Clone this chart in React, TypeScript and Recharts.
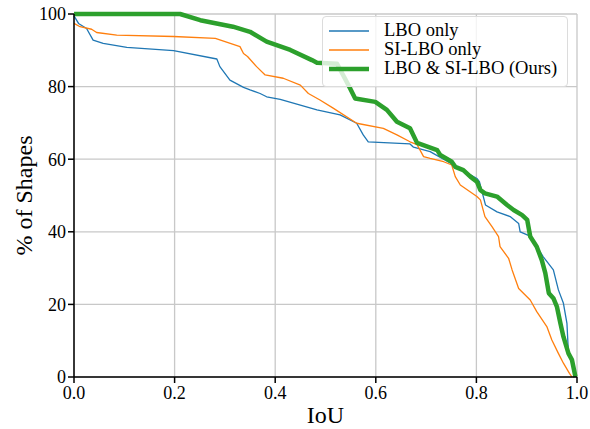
import React from "react";
import {
  CartesianGrid,
  Label,
  Legend,
  Line,
  LineChart,
  XAxis,
  YAxis,
} from "recharts";

// [IoU, % of shapes]
const lboOnly: [number, number][] = [
  [0, 99.5], [0.009, 97.4], [0.025, 96], [0.038, 92.8], [0.058, 91.9],
  [0.105, 90.8], [0.198, 89.9], [0.284, 87.6], [0.29, 85.5], [0.31, 81.8],
  [0.337, 79.8], [0.35, 79.1], [0.37, 78.1], [0.383, 77.2], [0.41, 76.5],
  [0.45, 74.9], [0.483, 73.6], [0.529, 72.2], [0.562, 69.9], [0.575, 66.7],
  [0.585, 64.8], [0.668, 64.2], [0.675, 63.3], [0.708, 62.1], [0.755, 58.4],
  [0.801, 54.7], [0.806, 53.8], [0.818, 47.4], [0.841, 45.5], [0.867, 44.2],
  [0.884, 42.3], [0.887, 40], [0.907, 38.8], [0.933, 33.1], [0.953, 29.5],
  [0.963, 24], [0.973, 20.3], [0.98, 14.8], [0.983, 6.5], [0.99, 4.7],
  [0.997, 0],
];

const siLboOnly: [number, number][] = [
  [0, 97.4], [0.012, 96.5], [0.035, 95.8], [0.045, 94.9], [0.085, 94.2],
  [0.198, 93.8], [0.281, 93.3], [0.33, 91], [0.337, 89.1], [0.345, 88.3],
  [0.363, 85.5], [0.38, 83.2], [0.416, 82.3], [0.45, 80.4], [0.466, 78.1],
  [0.489, 76.3], [0.516, 74], [0.562, 69.9], [0.615, 68.5], [0.642, 66.7],
  [0.668, 64.8], [0.682, 64], [0.688, 62.5], [0.695, 60.7], [0.708, 60.2],
  [0.735, 59.3], [0.751, 58.4], [0.758, 55.2], [0.768, 52.9], [0.801, 49.7],
  [0.808, 48.8], [0.817, 44.2], [0.831, 41.4], [0.844, 38.7], [0.847, 35.9],
  [0.864, 32.7], [0.871, 29.5], [0.884, 24.4], [0.907, 21.2], [0.92, 18],
  [0.94, 13.9], [0.95, 10.2], [0.963, 6.5], [0.973, 3.8], [0.985, 1],
  [0.99, 0],
];

const ours: [number, number][] = [
  [0, 100], [0.211, 100], [0.251, 98.3], [0.316, 96.5], [0.35, 95.1],
  [0.383, 92.4], [0.43, 90.1], [0.473, 87.3], [0.483, 86.6], [0.523, 86.3],
  [0.549, 79.5], [0.559, 76.7], [0.599, 75.8], [0.622, 73.6], [0.642, 70.3],
  [0.668, 68.5], [0.682, 64.5], [0.722, 62.5], [0.728, 61.2], [0.751, 59.3],
  [0.758, 57.9], [0.774, 57], [0.788, 55.2], [0.801, 53.8], [0.808, 51.5],
  [0.817, 50.6], [0.841, 49.7], [0.861, 47.4], [0.874, 46], [0.891, 44.6],
  [0.901, 43.3], [0.907, 38.7], [0.92, 35.9], [0.93, 32.2], [0.937, 28.6],
  [0.944, 23.1], [0.953, 21.7], [0.96, 19.4], [0.967, 14.8], [0.973, 11.1],
  [0.983, 6.5], [0.99, 4.7], [0.997, 0],
];

const xTicks = [0, 0.2, 0.4, 0.6, 0.8, 1.0];
const yTicks = [0, 20, 40, 60, 80, 100];

const seriesNames = ["LBO only", "SI-LBO only", "LBO & SI-LBO (Ours)"];

const toRows = (pts: [number, number][]) => pts.map(([x, y]) => ({ x, y }));

const font = "'Liberation Serif', 'Times New Roman', serif";
const colors = ["#1f77b4", "#ff7f0e", "#2ca02c"];
const widths = [1.3, 1.3, 4.5];

function LegendBox() {
  return (
    <div
      style={{
        boxSizing: "border-box",
        width: 246,
        height: 71,
        background: "rgba(255,255,255,0.8)",
        border: "1px solid #dcdcdc",
        borderRadius: 4,
        padding: "4px 0 0 6px",
        fontFamily: font,
        fontSize: 18.5,
        lineHeight: "19.2px",
        color: "#000",
      }}
    >
      {seriesNames.map((name, i) => (
        <div key={name} style={{ display: "flex", alignItems: "center", height: 19.2 }}>
          <svg width={40} height={8} style={{ marginRight: 15, flex: "none" }}>
            <line x1={0} y1={4} x2={40} y2={4} stroke={colors[i]} strokeWidth={widths[i]} />
          </svg>
          <span style={{ whiteSpace: "nowrap" }}>{name}</span>
        </div>
      ))}
    </div>
  );
}

export default function App() {
  return (
    <div style={{ position: "absolute", left: 0, top: 0, width: 590, height: 429, background: "#fff" }}>
      <LineChart
        width={590}
        height={429}
        margin={{ top: 14, right: 13, bottom: 0, left: 0 }}
        style={{ fontFamily: font }}
      >
        <CartesianGrid stroke="#c8c8c8" strokeWidth={1.3} />
        <XAxis
          dataKey="x"
          type="number"
          domain={[0, 1]}
          ticks={xTicks}
          tickFormatter={(v: number) => v.toFixed(1)}
          allowDuplicatedCategory={false}
          height={52}
          stroke="#000"
          strokeWidth={1.5}
          tickSize={6}
          tickMargin={3}
          tick={{ fill: "#000", fontSize: 18, fontFamily: font }}
        >
          <Label value="IoU" position="insideBottom" offset={6} style={{ fill: "#000", fontSize: 24, fontFamily: font }} />
        </XAxis>
        <YAxis
          dataKey="y"
          type="number"
          domain={[0, 100]}
          ticks={yTicks}
          width={74}
          stroke="#000"
          strokeWidth={1.5}
          tickSize={6}
          tickMargin={2}
          tick={{ fill: "#000", fontSize: 18, fontFamily: font }}
        >
          <Label
            value="% of Shapes"
            angle={-90}
            position="insideLeft"
            offset={23}
            style={{ textAnchor: "middle", fill: "#000", fontSize: 24, fontFamily: font }}
          />
        </YAxis>
        {[lboOnly, siLboOnly, ours].map((pts, i) => (
          <Line
            key={seriesNames[i]}
            data={toRows(pts)}
            dataKey="y"
            name={seriesNames[i]}
            type="linear"
            stroke={colors[i]}
            strokeWidth={widths[i]}
            dot={false}
            activeDot={false}
            isAnimationActive={false}
            strokeLinejoin="round"
          />
        ))}
        <Legend
          layout="vertical"
          align="center"
          verticalAlign="middle"
          content={() => <LegendBox />}
          wrapperStyle={{ left: 322, top: 16, width: "auto", height: "auto" }}
        />
      </LineChart>
    </div>
  );
}
